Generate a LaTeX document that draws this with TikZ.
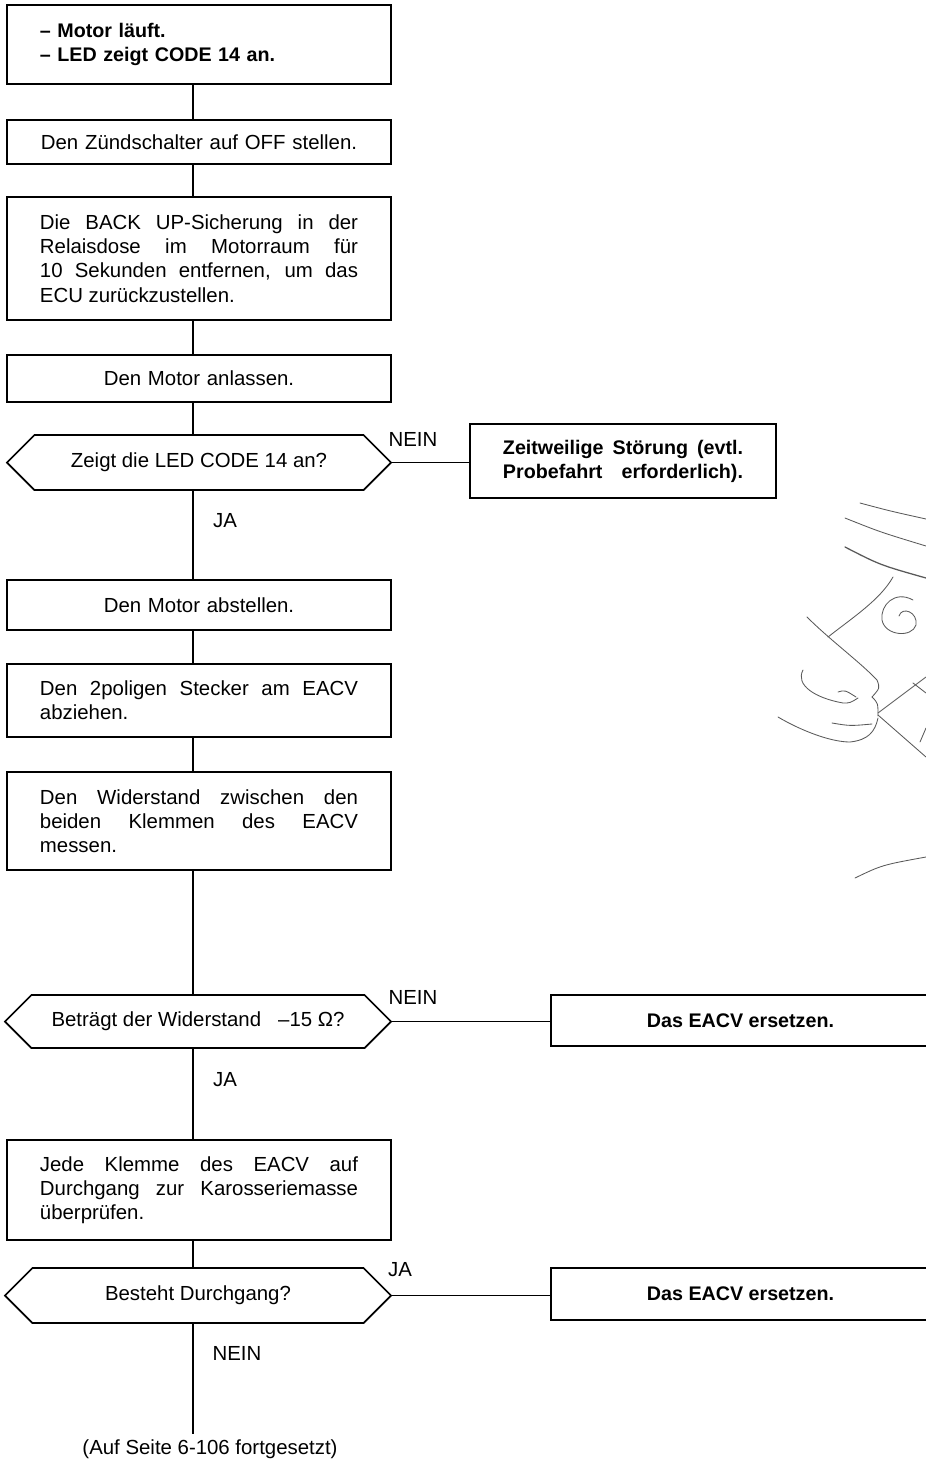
\documentclass[tikz,border=0pt]{standalone}
\usepackage{fontspec}
\setmainfont{Liberation Sans}
\usetikzlibrary{shapes.symbols}

\begin{document}
\begin{tikzpicture}[x=0.025cm, y=-0.025cm, line width=1.2pt,
    box/.style={draw, rectangle, text width=7.95cm, inner xsep=0.825cm, inner ysep=0pt,
      align=justify, font=\fontsize{14.5}{17.2}\selectfont},
    ask/.style={draw, shape=signal, signal to=west and east, signal pointer angle=90,
      minimum width=9.6cm, minimum height=1.375cm, inner sep=0pt,
      font=\fontsize{14.5}{17.2}\selectfont},
    fix/.style={draw, rectangle, inner ysep=0pt, align=justify,
      font=\fontsize{14}{17.2}\selectfont\bfseries},
    lbl/.style={inner sep=0pt, font=\fontsize{14.5}{17.2}\selectfont},
    sketch/.style={line width=0.6pt, black!65, line cap=round}]
    \useasboundingbox (0,0) rectangle (926,1462);
    \coordinate (spine) at (193,0);

    % main chain
    \node[box, minimum height=1.975cm, align=left, font=\fontsize{14}{17.2}\selectfont\bfseries] (b1) at (199,44.5) {-- Motor läuft.\\-- LED zeigt CODE 14 an.};
    \node[box, minimum height=1.1cm, align=center] (b2) at (199,142) {Den Zündschalter auf OFF stellen.};
    \node[box, minimum height=3.075cm] (b3) at (199,258.5) {Die BACK UP-Sicherung in der\linebreak Relaisdose im Motorraum für\linebreak 10 Sekunden entfernen, um das\linebreak ECU zurückzustellen.};
    \node[box, minimum height=1.175cm, align=center] (b4) at (199,378.5) {Den Motor anlassen.};
    \node[ask] (d1) at (199,462.5) {Zeigt die LED CODE 14 an?};
    \node[box, minimum height=1.25cm, align=center] (b6) at (199,605) {Den Motor abstellen.};
    \node[box, minimum height=1.825cm] (b7) at (199,700.5) {Den 2poligen Stecker am EACV\linebreak abziehen.};
    \node[box, minimum height=2.45cm] (b8) at (199,821) {Den Widerstand zwischen den\linebreak beiden Klemmen des EACV\linebreak messen.};
    \node[ask, minimum width=9.65cm, minimum height=1.325cm] (d2) at (198,1021.5) {Beträgt der Widerstand~~ –15 Ω?};
    \node[box, minimum height=2.5cm] (b9) at (199,1190) {Jede Klemme des EACV auf\linebreak Durchgang zur Karosseriemasse\linebreak überprüfen.};
    \node[ask, minimum width=9.65cm] (d3) at (198,1295.5) {Besteht Durchgang?};
    \node[lbl, inner ysep=3pt] (cont) at (210,1449) {(Auf Seite 6-106 fortgesetzt)};

    % side results
    \node[fix, text width=6cm, inner xsep=0.825cm, minimum height=1.85cm] (r1) at (623,461) {Zeitweilige Störung (evtl.\linebreak Probefahrt\hskip 0pt plus 1fill\ erforderlich).};
    \node[fix, align=center, minimum width=9.475cm, minimum height=1.275cm] (r2) at (740.5,1020.5) {Das EACV ersetzen.};
    \node[fix, align=center, minimum width=9.475cm, minimum height=1.3cm] (r3) at (740.5,1294) {Das EACV ersetzen.};

    % answers
    \node[lbl] (nein1) at (413,439) {NEIN};
    \node[lbl] (ja1) at (225,521) {JA};
    \node[lbl] (nein2) at (413,997) {NEIN};
    \node[lbl] (ja2) at (225,1080) {JA};
    \node[lbl] (ja3) at (400,1270) {JA};
    \node[lbl] (nein3) at (237,1353) {NEIN};

    \draw (b1.south -| spine) -- (b2.north -| spine);
    \draw (b2.south -| spine) -- (b3.north -| spine);
    \draw (b3.south -| spine) -- (b4.north -| spine);
    \draw (b4.south -| spine) -- (d1.north -| spine);
    \draw (d1.south -| spine) -- (b6.north -| spine);
    \draw (b6.south -| spine) -- (b7.north -| spine);
    \draw (b7.south -| spine) -- (b8.north -| spine);
    \draw (b8.south -| spine) -- (d2.north -| spine);
    \draw (d2.south -| spine) -- (b9.north -| spine);
    \draw (b9.south -| spine) -- (d3.north -| spine);
    \draw (d3.south -| spine) -- (cont.north -| spine);
    \draw (d1.east) -- (d1.east -| r1.west);
    \draw (d2.east) -- (d2.east -| r2.west);
    \draw (d3.east) -- (d3.east -| r3.west);

    % figure at the right edge
    \draw[sketch] (860,503) .. controls (890,511) .. (926,519);
    \draw[sketch] (845,518) .. controls (880,532) .. (926,546);
    \draw[sketch, line width=0.9pt] (845,547) .. controls (880,565) .. (926,578);
    \draw[sketch] (893,577) .. controls (880,600) and (852,618) .. (828,637);
    \draw[sketch] (807,617) .. controls (830,640) and (860,662) .. (877,680) .. controls (880,688) .. (872,697) .. controls (878,703) .. (878,716);
    \draw[sketch] (803,670) .. controls (795,685) and (815,698) .. (843,703) .. controls (850,703) .. (858,698);
    \draw[sketch] (838,692) .. controls (845,690) .. (856,697);
    \draw[sketch] (778,717) .. controls (800,730) and (830,742) .. (850,742) .. controls (868,740) and (875,732) .. (878,718);
    \draw[sketch] (832,723) .. controls (850,726) .. (872,724);
    \draw[sketch] (878,713) -- (926,677);
    \draw[sketch] (878,715) -- (926,757);
    \draw[sketch] (913,683) -- (926,693);
    \draw[sketch] (920,742) -- (926,728);
    \draw[sketch] (913,600) .. controls (895,590) and (880,605) .. (882,620) .. controls (885,636) and (912,638) .. (916,625) .. controls (918,612) and (902,606) .. (899,616);
    \draw[sketch] (855,878) .. controls (882,865) .. (926,857);
\end{tikzpicture}
\end{document}
